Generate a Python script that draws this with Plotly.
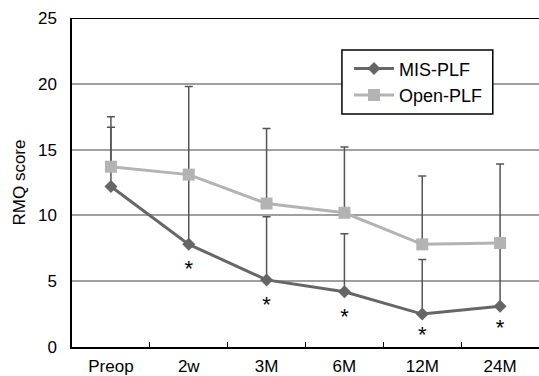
import plotly.graph_objects as go

categories = ["Preop", "2w", "3M", "6M", "12M", "24M"]
mis_plf = [12.2, 7.8, 5.1, 4.2, 2.5, 3.1]
open_plf = [13.7, 13.1, 10.9, 10.2, 7.8, 7.9]
mis_err = [4.5, 12.0, 4.8, 4.4, 4.15, 10.8]
open_err = [3.8, None, 5.7, 5.0, 5.2, None]
star_cats = ["2w", "3M", "6M", "12M", "24M"]
star_y = [5.8, 3.1, 2.2, 0.8, 1.3]

font = "Liberation Sans, Arial, sans-serif"

fig = go.Figure()
fig.add_trace(go.Scatter(
    x=categories, y=mis_plf, name="MIS-PLF", mode="lines+markers",
    line=dict(color="#666666", width=3),
    marker=dict(symbol="diamond", size=10, color="#666666"),
    error_y=dict(type="data", array=mis_err, symmetric=False, arrayminus=[0]*6,
                 color="#555555", thickness=1.5, width=4),
))
fig.add_trace(go.Scatter(
    x=categories, y=open_plf, name="Open-PLF", mode="lines+markers",
    line=dict(color="#b3b3b3", width=3),
    marker=dict(symbol="square", size=12, color="#b3b3b3"),
    error_y=dict(type="data", array=open_err, symmetric=False, arrayminus=[0]*6,
                 color="#555555", thickness=1.5, width=4),
))
fig.add_trace(go.Scatter(
    x=star_cats, y=star_y, mode="text", text=["*"] * len(star_cats),
    textfont=dict(size=22, color="black", family=font), showlegend=False,
    hoverinfo="skip",
))

fig.update_layout(
    width=539, height=376,
    margin=dict(l=72, r=0, t=18, b=29),
    plot_bgcolor="white", paper_bgcolor="white",
    font=dict(family=font, size=17, color="black"),
    legend=dict(x=0.742, y=0.806, xanchor="center", yanchor="middle",
                borderwidth=0, bgcolor="rgba(0,0,0,0)",
                font=dict(size=18), tracegroupgap=0, itemwidth=40),
    showlegend=True,
)
fig.update_xaxes(
    type="category", showline=True, linecolor="black", linewidth=1.5,
    mirror=False, ticks="inside", ticklen=5, tickcolor="black",
    showgrid=False, range=[-0.5, 5.5], tickson="boundaries",
    ticklabelstandoff=3,
)
fig.update_yaxes(
    range=[0, 25], dtick=5, showline=True, linecolor="black", linewidth=1.5,
    showgrid=True, gridcolor="#a0a0a0", gridwidth=1.5, zeroline=False,
    title=dict(text="RMQ score", font=dict(size=17), standoff=8), ticks="",
    ticklabelstandoff=10,
)
fig.add_shape(type="line", xref="paper", yref="y", x0=0, x1=1, y0=25, y1=25,
              line=dict(color="black", width=2))
fig.add_shape(type="rect", xref="paper", yref="paper",
              x0=0.578, x1=0.901, y0=0.708, y1=0.903,
              line=dict(color="black", width=1.5), fillcolor="white",
              layer="above")

fig.write_html("out.html")
